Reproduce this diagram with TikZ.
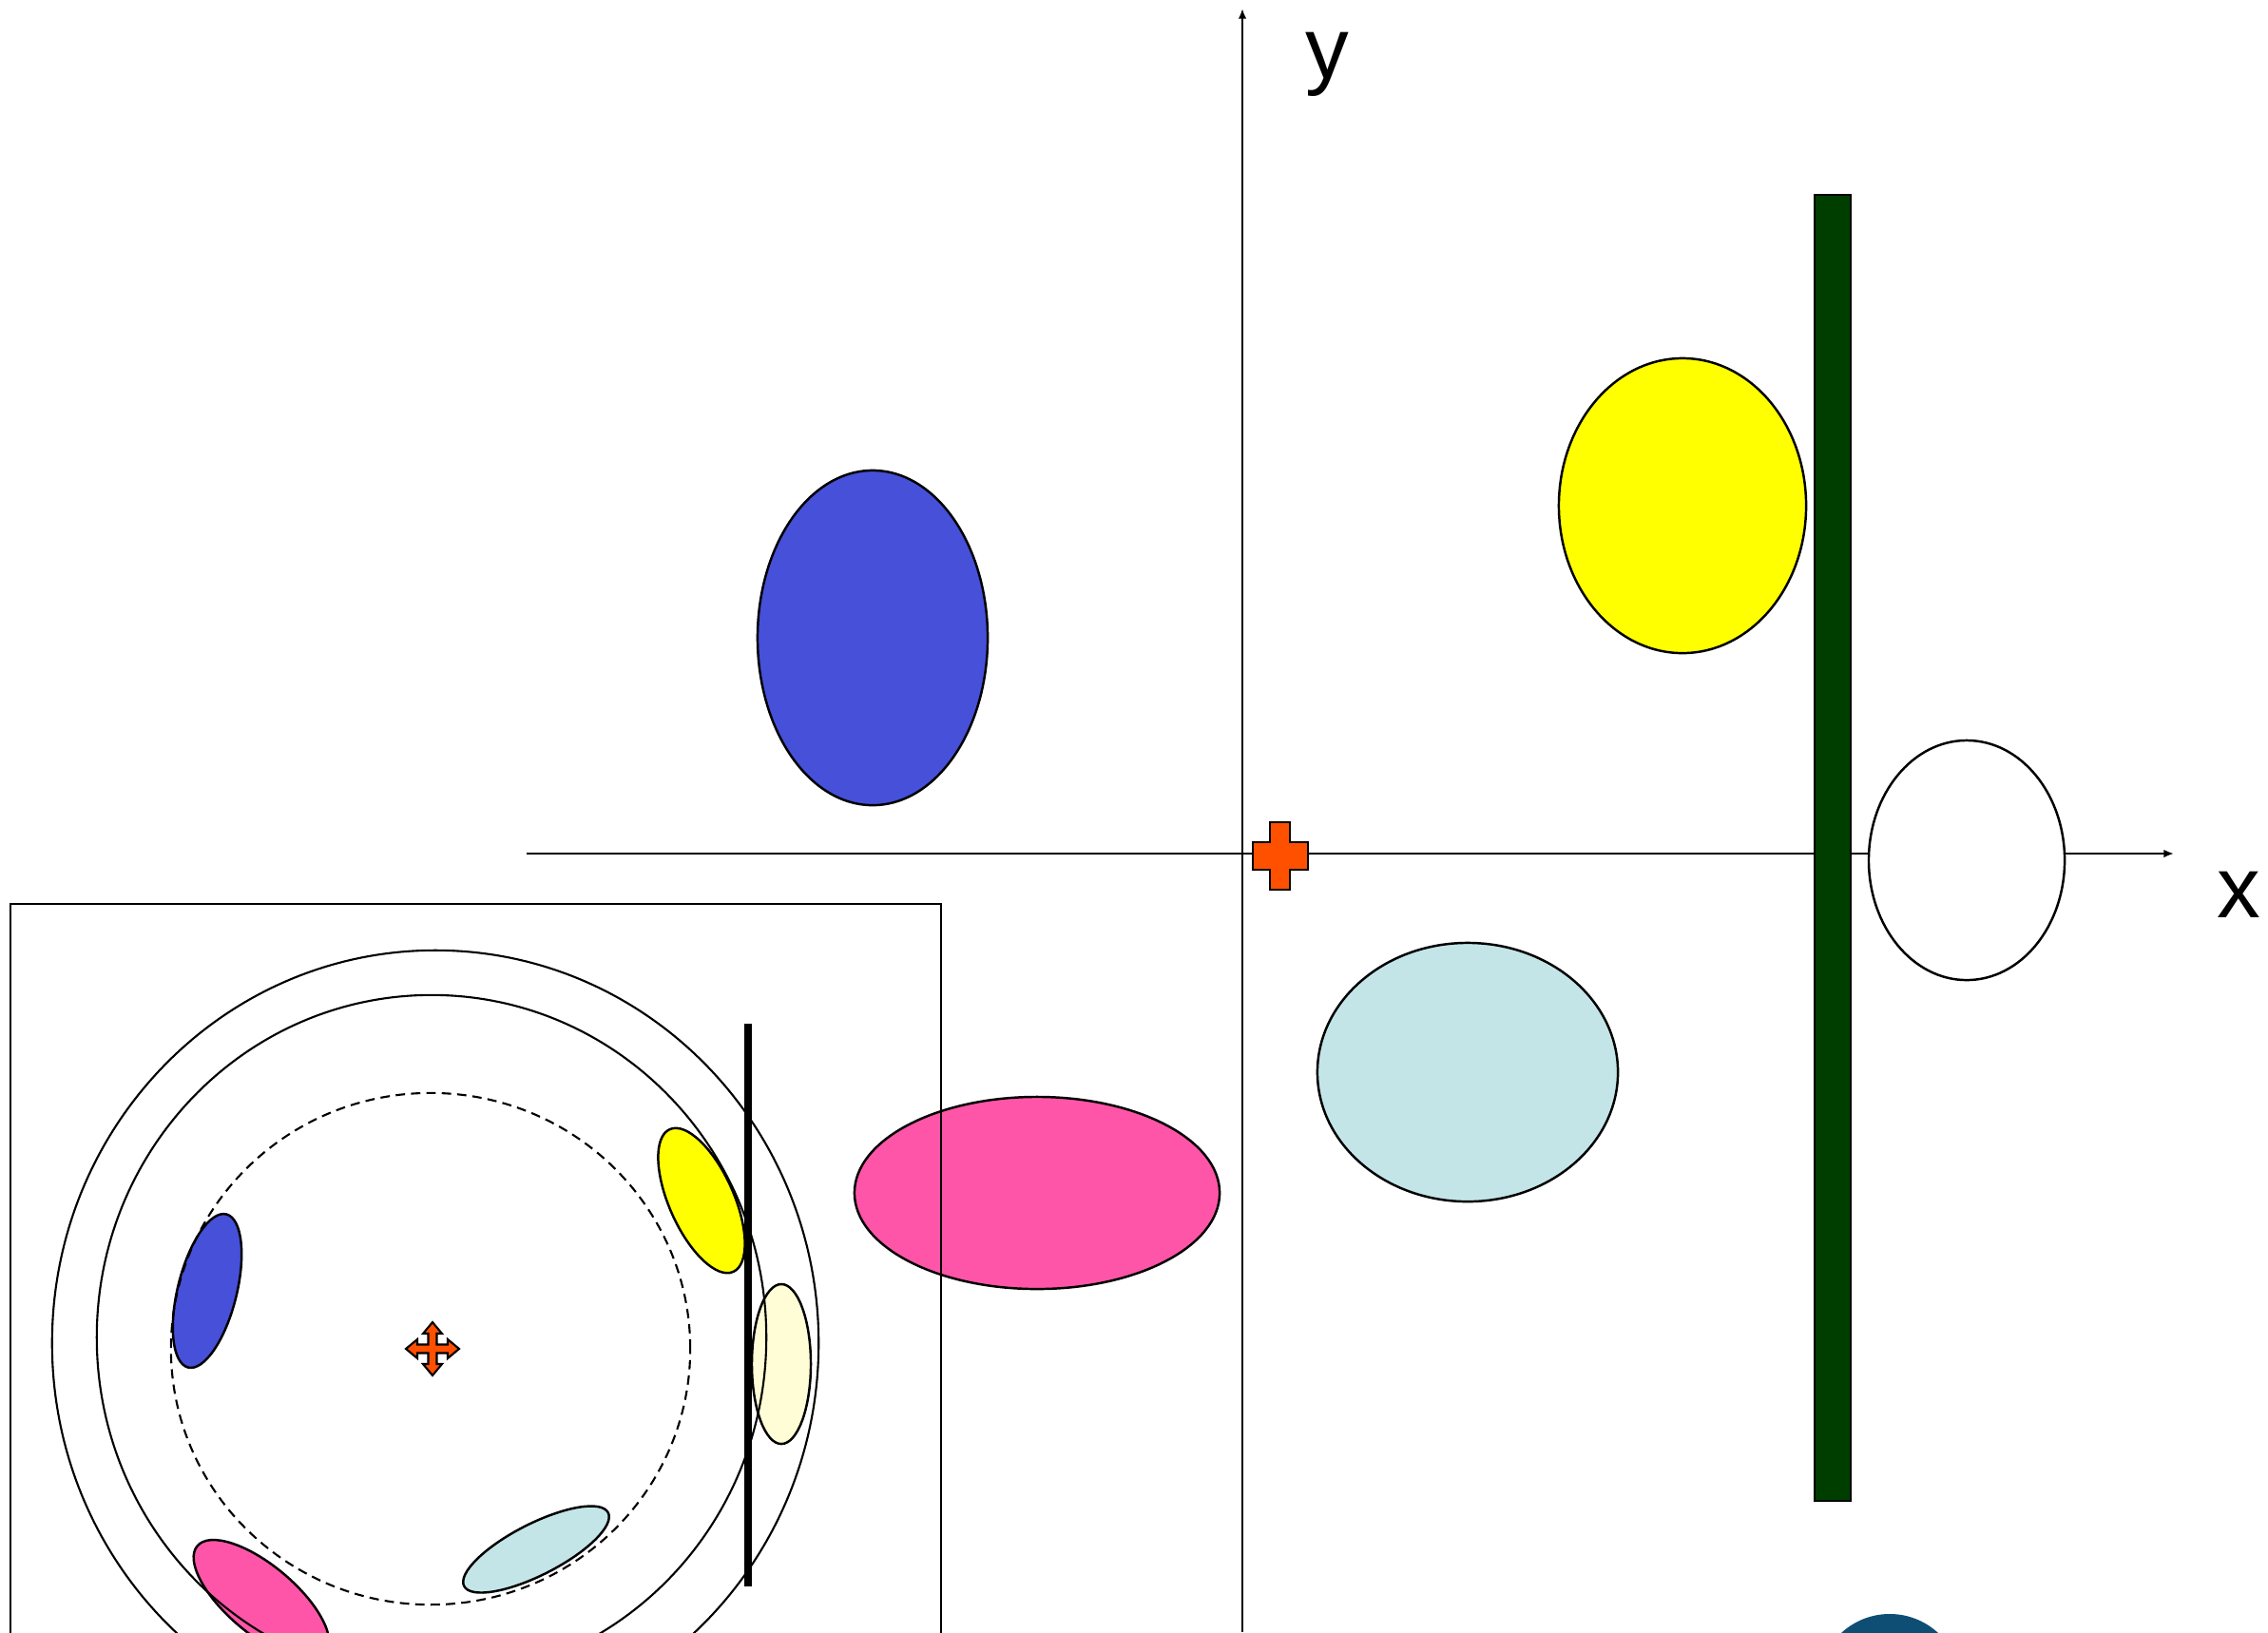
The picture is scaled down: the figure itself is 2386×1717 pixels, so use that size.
\documentclass[tikz,border=0pt]{standalone}
\usepackage{fontspec}
\setmainfont{Liberation Sans}
\usetikzlibrary{arrows.meta}
\definecolor{blueF}{RGB}{70,80,216}
\definecolor{yellowF}{RGB}{255,255,0}
\definecolor{pinkF}{RGB}{255,85,168}
\definecolor{lblueF}{RGB}{196,229,232}
\definecolor{lyellowF}{RGB}{255,253,214}
\definecolor{greenF}{RGB}{0,62,0}
\definecolor{orangeF}{RGB}{255,80,0}
\definecolor{logoF}{RGB}{14,78,117}
\tikzset{
  shp/.style={draw=black, line width=0.7pt},
  axisline/.style={draw=black, line width=0.6pt, -{Latex[length=3pt,width=2.4pt]}},
  ring/.style={draw=black, line width=0.6pt},
  lbl/.style={font=\fontsize{26}{30}\selectfont, anchor=base, inner sep=0pt},
}
\begin{document}
\begin{tikzpicture}[x=0.01cm, y=-0.01cm]
\useasboundingbox (0,0) rectangle (2386,1717);
\clip (0,0) rectangle (2386,1717);
% axes
\coordinate (xs) at (554,898);
\coordinate (xe) at (2287,898);
\coordinate (ys) at (1307,1717);
\coordinate (ye) at (1307,9);
\draw[axisline] (xs) -- (xe);
\draw[axisline] (ys) -- (ye);
\node[lbl] (ylab) at (1396,82) {y};
\node[lbl] (xlab) at (2355,965) {x};
% big ellipses
\draw[shp, fill=blueF] (918,671) ellipse [x radius=1.21cm, y radius=1.76cm];
\draw[shp, fill=yellowF] (1770,532) ellipse [x radius=1.30cm, y radius=1.55cm];
\draw[shp, fill=white] (2069,905) ellipse [x radius=1.03cm, y radius=1.26cm];
\draw[shp, fill=lblueF] (1544,1128) ellipse [x radius=1.58cm, y radius=1.36cm];
\draw[shp, fill=pinkF] (1091,1255) ellipse [x radius=1.92cm, y radius=1.01cm];
% green bar
\draw[draw=black, line width=0.7pt, fill=greenF] (1909,205) rectangle (1947,1579);
% orange cross
\draw[draw=black, line width=0.8pt, fill=orangeF]
  (1336,865) -- (1357,865) -- (1357,886) -- (1376,886) -- (1376,915) -- (1357,915)
  -- (1357,936) -- (1336,936) -- (1336,915) -- (1318,915) -- (1318,886) -- (1336,886) -- cycle;
% logo partial circle
\fill[logoF] (1988,1773) circle [radius=0.75cm];
% inset frame
\draw[draw=black, line width=0.6pt] (11,1730) -- (11,951) -- (990,951) -- (990,1730);
% inset small ellipses
\draw[shp, fill=blueF, rotate around={76:(218,1358)}] (218,1358) ellipse [x radius=0.83cm, y radius=0.31cm];
\draw[shp, fill=yellowF, rotate around={114:(738,1263)}] (738,1263) ellipse [x radius=0.82cm, y radius=0.34cm];
\draw[shp, fill=lyellowF] (822,1435) ellipse [x radius=0.31cm, y radius=0.84cm];
\draw[shp, fill=lblueF, rotate around={27:(564,1630)}] (564,1630) ellipse [x radius=0.85cm, y radius=0.27cm];
\draw[shp, fill=pinkF, rotate around={-40:(275,1683)}] (275,1683) ellipse [x radius=0.88cm, y radius=0.36cm];
% rings
\draw[ring] (458,1413) ellipse [x radius=4.03cm, y radius=4.13cm];
\draw[ring] (454,1407) ellipse [x radius=3.52cm, y radius=3.60cm];
\draw[ring, dash pattern=on 2.8pt off 1.8pt] (453,1419) ellipse [x radius=2.73cm, y radius=2.69cm];
% thick line
\coordinate (ts) at (787,1077);
\coordinate (te) at (787,1669);
\draw[draw=black, line width=2pt] (ts) -- (te);
% move cursor
\begin{scope}[shift={(455,1419)}]
\draw[draw=black, line width=0.6pt, fill=orangeF]
  (0,-28) -- (10,-16) -- (4.5,-16) -- (4.5,-4.5) -- (16,-4.5) -- (16,-10) -- (28,0)
  -- (16,10) -- (16,4.5) -- (4.5,4.5) -- (4.5,16) -- (10,16) -- (0,28) -- (-10,16)
  -- (-4.5,16) -- (-4.5,4.5) -- (-16,4.5) -- (-16,10) -- (-28,0) -- (-16,-10)
  -- (-16,-4.5) -- (-4.5,-4.5) -- (-4.5,-16) -- (-10,-16) -- cycle;
\end{scope}
\end{tikzpicture}
\end{document}
